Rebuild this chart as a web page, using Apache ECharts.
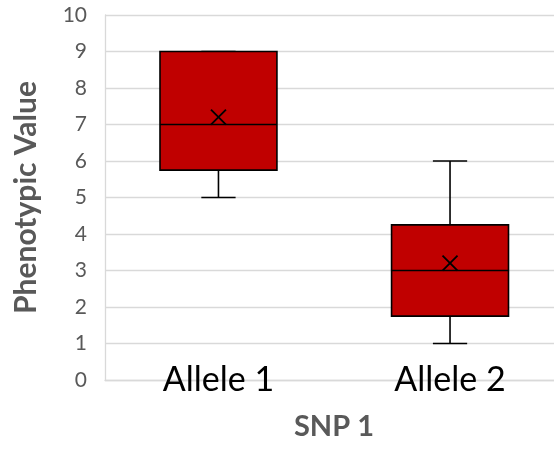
<!DOCTYPE html>
<html>
<head>
<meta charset="utf-8">
<script src="https://cdn.jsdelivr.net/npm/echarts@6/dist/echarts.min.js"></script>
<style>
html,body{margin:0;padding:0;background:#fff;}
#chart{width:554px;height:449px;}
</style>
</head>
<body>
<div id="chart"></div>
<script>
const categories = ['Allele 1', 'Allele 2'];
const minVals = [5, 1];
const q1Vals = [5.75, 1.75];
const medianVals = [7, 3];
const q3Vals = [9, 4.25];
const maxVals = [9, 6];
const meanVals = [7.2, 3.2];
const yMin = 0, yMax = 10, yInterval = 1;
// category index range visible in the plot (the plot runs off the right edge)
const xMin = -0.49, xMax = 1.449;

const catIdx = categories.map((c, i) => i);
const seriesData = categories.map((c, i) => [i, minVals[i], q1Vals[i], medianVals[i], q3Vals[i], maxVals[i], meanVals[i]]);

function renderBox(params, api) {
  const x = api.value(0);
  const band = api.size([1, 0])[0];
  const bw = band * 0.505;
  const cw = band * 0.148;
  const pMin = api.coord([x, api.value(1)]);
  const pQ1 = api.coord([x, api.value(2)]);
  const pMed = api.coord([x, api.value(3)]);
  const pQ3 = api.coord([x, api.value(4)]);
  const pMax = api.coord([x, api.value(5)]);
  const pMean = api.coord([x, api.value(6)]);
  const cx = pMed[0];
  const ls = { stroke: '#000', lineWidth: 1.6, fill: null };
  const xs = 7.5;
  return {
    type: 'group',
    children: [
      { type: 'line', shape: { x1: cx, y1: pQ1[1], x2: cx, y2: pMin[1] }, style: ls },
      { type: 'line', shape: { x1: cx, y1: pQ3[1], x2: cx, y2: pMax[1] }, style: ls },
      { type: 'line', shape: { x1: cx - cw / 2, y1: pMin[1], x2: cx + cw / 2, y2: pMin[1] }, style: ls },
      { type: 'line', shape: { x1: cx - cw / 2, y1: pMax[1], x2: cx + cw / 2, y2: pMax[1] }, style: ls },
      { type: 'rect', shape: { x: cx - bw / 2, y: pQ3[1], width: bw, height: pQ1[1] - pQ3[1] },
        style: { fill: '#C00000', stroke: '#000', lineWidth: 1.6 } },
      { type: 'line', shape: { x1: cx - bw / 2, y1: pMed[1], x2: cx + bw / 2, y2: pMed[1] }, style: ls },
      { type: 'line', shape: { x1: cx - xs, y1: pMean[1] - xs, x2: cx + xs, y2: pMean[1] + xs }, style: { stroke: '#000', lineWidth: 1.8 } },
      { type: 'line', shape: { x1: cx - xs, y1: pMean[1] + xs, x2: cx + xs, y2: pMean[1] - xs }, style: { stroke: '#000', lineWidth: 1.8 } }
    ]
  };
}

const chart = echarts.init(document.getElementById('chart'), null, { renderer: 'canvas' });
chart.setOption({
  animation: false,
  backgroundColor: '#fff',
  grid: { left: 105, top: 15, right: 0, height: 365, containLabel: false },
  xAxis: {
    type: 'value',
    min: xMin, max: xMax,
    name: 'SNP 1',
    nameLocation: 'middle',
    nameGap: 32,
    nameTextStyle: { fontFamily: 'Lato', fontWeight: 'bold', fontSize: 29, color: '#595959', padding: [0, 0, 0, 9] },
    axisLine: { show: true, onZero: false, lineStyle: { color: '#d9d9d9', width: 1.3 } },
    axisTick: { show: false },
    axisLabel: {
      customValues: catIdx,
      formatter: v => categories[Math.round(v)],
      margin: 0, verticalAlign: 'middle', fontFamily: 'Lato', fontSize: 34, color: '#000'
    },
    splitLine: { show: false }
  },
  yAxis: {
    type: 'value',
    min: yMin, max: yMax, interval: yInterval,
    name: 'Phenotypic Value',
    nameLocation: 'middle',
    nameGap: 64,
    nameTextStyle: { fontFamily: 'Lato', fontWeight: 'bold', fontSize: 30, color: '#595959' },
    axisLine: { show: true, onZero: false, lineStyle: { color: '#d9d9d9', width: 1.3 } },
    axisTick: { show: false },
    axisLabel: { margin: 18, fontFamily: 'Lato', fontSize: 21, color: '#595959' },
    splitLine: { show: true, lineStyle: { color: '#d9d9d9', width: 1.3 } }
  },
  series: [{
    type: 'custom',
    renderItem: renderBox,
    encode: { x: 0, y: [1, 2, 3, 4, 5, 6] },
    data: seriesData,
    clip: false
  }]
});
</script>
</body>
</html>
